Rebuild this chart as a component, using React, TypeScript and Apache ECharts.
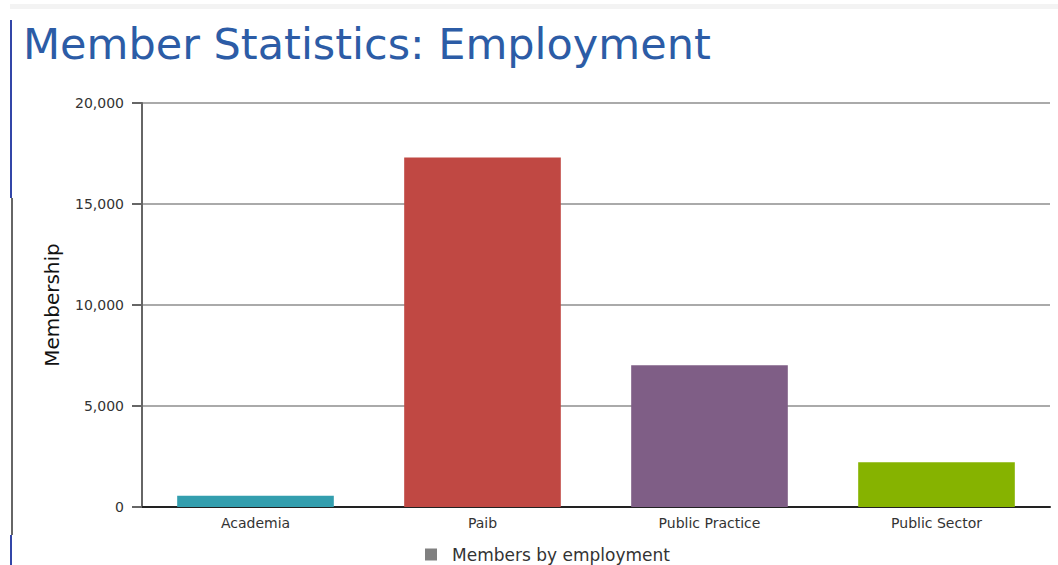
import React, { useEffect, useRef } from "react";
import * as echarts from "echarts";

const categories = ["Academia", "Paib", "Public Practice", "Public Sector"];
const membership = [560, 17300, 7020, 2220];
const barColors = ["#339eae", "#c04843", "#7f5e86", "#86b300"];
const yTicks = [0, 5000, 10000, 15000, 20000];
const seriesName = "Members by employment";
const titleText = "Member Statistics: Employment";

export default function App() {
  const ref = useRef<HTMLDivElement>(null);
  useEffect(() => {
    const chart = echarts.init(ref.current!, null, { renderer: "svg" });
    chart.setOption({
      animation: false,
      backgroundColor: "#ffffff",
      title: {
        text: titleText,
        left: 18,
        top: 17,
        textStyle: {
          fontFamily: "DejaVu Sans",
          fontSize: 43,
          fontWeight: "normal",
          color: "#2c5ca6",
        },
      },
      legend: {
        data: [seriesName],
        top: 541,
        left: 420,
        icon: "rect",
        itemWidth: 12,
        itemHeight: 12,
        textStyle: {
          fontFamily: "DejaVu Sans",
          fontSize: 17,
          color: "#333",
          padding: [0, 0, 0, 10],
        },
      },
      grid: { left: 142, right: 8, top: 103, bottom: 58, containLabel: false },
      xAxis: {
        type: "category",
        data: categories,
        axisLine: { lineStyle: { color: "#222", width: 2 } },
        axisTick: { alignWithLabel: true, length: 5, lineStyle: { color: "#555", width: 2 } },
        axisLabel: {
          fontFamily: "DejaVu Sans",
          fontSize: 14,
          color: "#333",
          margin: 9,
        },
      },
      yAxis: {
        type: "value",
        min: yTicks[0],
        max: yTicks[yTicks.length - 1],
        interval: 5000,
        name: "Membership",
        nameLocation: "middle",
        nameGap: 80,
        nameTextStyle: { fontFamily: "DejaVu Sans", fontSize: 20, color: "#111" },
        axisLine: { show: true, lineStyle: { color: "#666", width: 2 } },
        axisTick: { show: true, length: 10, lineStyle: { color: "#666", width: 2 } },
        axisLabel: {
          fontFamily: "DejaVu Sans",
          fontSize: 14,
          color: "#333",
          margin: 18,
          formatter: (v: number) => v.toLocaleString("en-US"),
        },
        splitLine: { lineStyle: { color: "#aaa", width: 2 } },
      },
      series: [
        {
          name: seriesName,
          type: "bar",
          color: "#808080",
          barCategoryGap: "31%",
          data: membership.map((v, i) => ({ value: v, itemStyle: { color: barColors[i] } })),
        },
      ],
      graphic: [
        { type: "rect", shape: { x: 10, y: 4, width: 1048, height: 5 }, style: { fill: "#f3f3f3" } },
        { type: "line", shape: { x1: 11, y1: 20, x2: 11, y2: 198 }, style: { stroke: "#3346a8", lineWidth: 2 } },
        { type: "line", shape: { x1: 12, y1: 198, x2: 12, y2: 535 }, style: { stroke: "#666", lineWidth: 2 } },
        { type: "line", shape: { x1: 11, y1: 535, x2: 11, y2: 565 }, style: { stroke: "#3346a8", lineWidth: 2 } },
      ],
    });
    return () => chart.dispose();
  }, []);
  return (
    <div
      ref={ref}
      style={{ position: "absolute", left: 0, top: 0, width: 1058, height: 565 }}
    />
  );
}
